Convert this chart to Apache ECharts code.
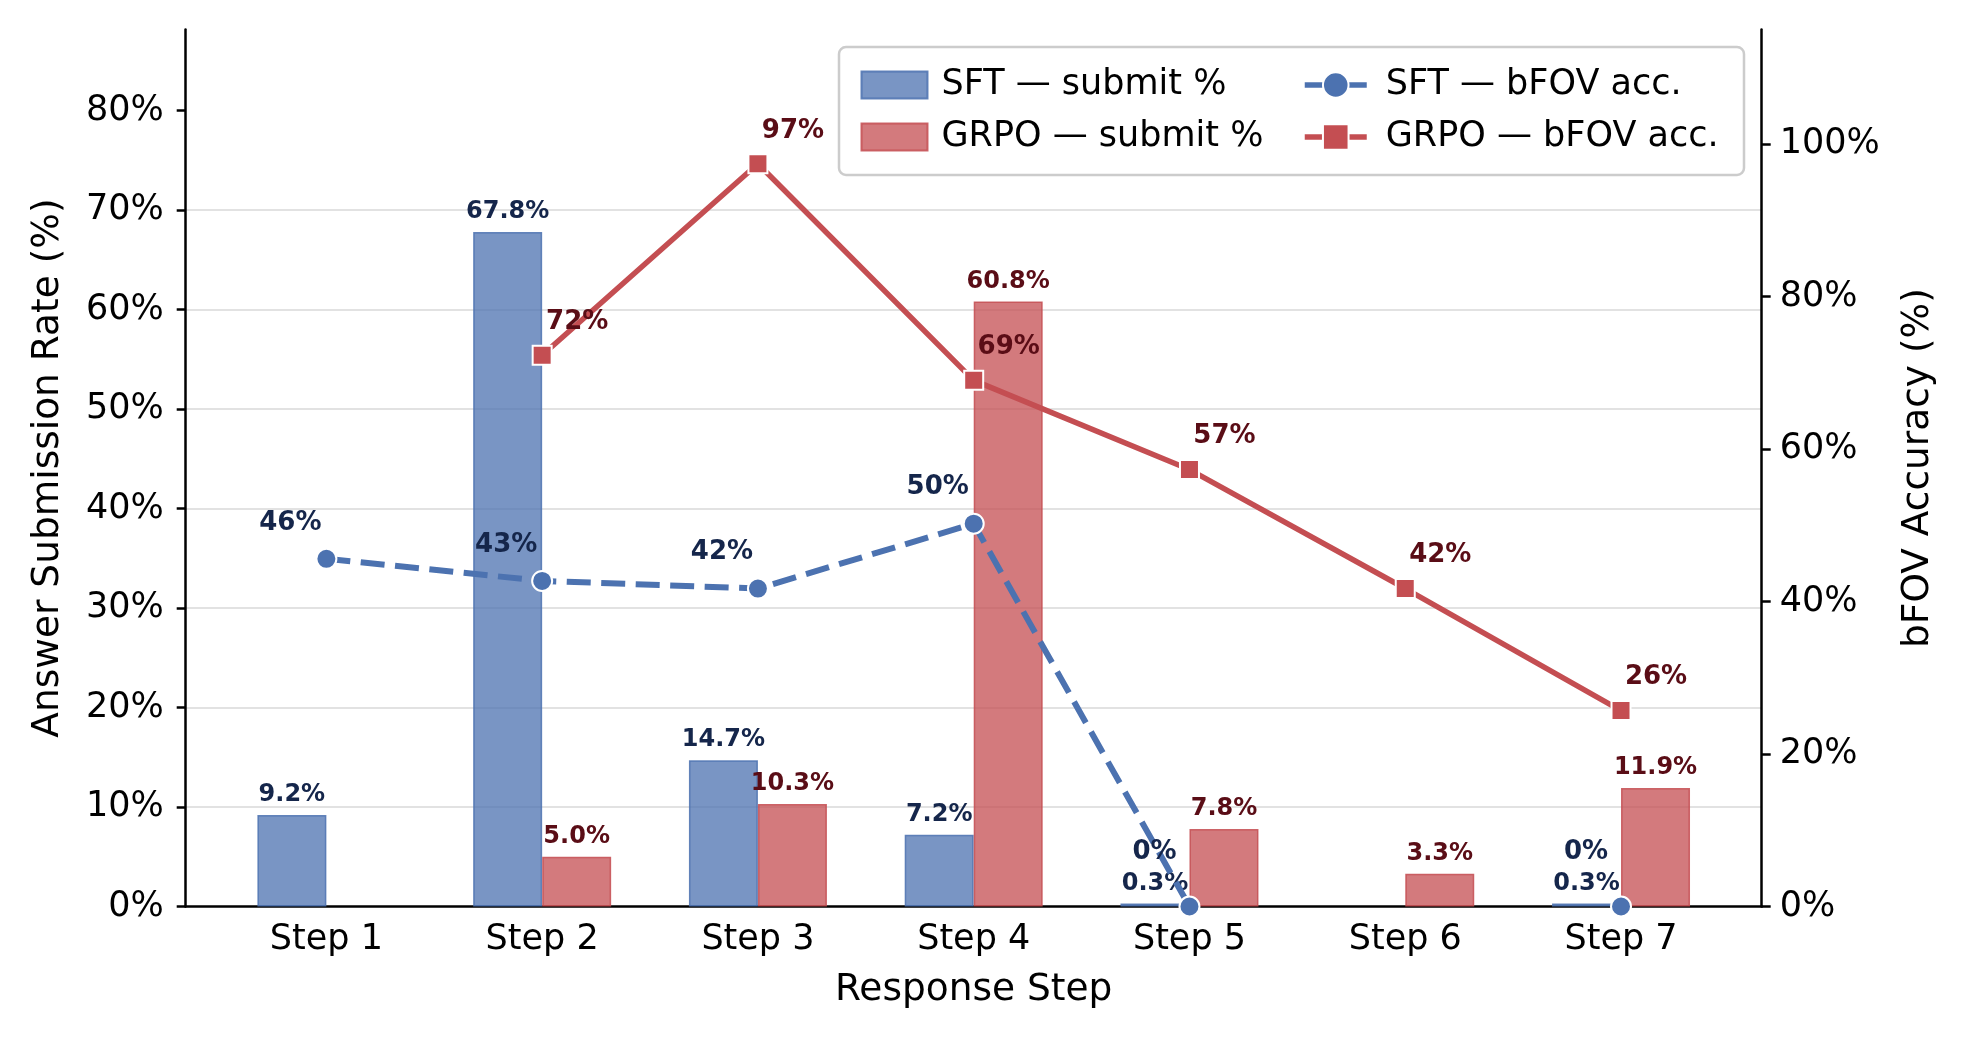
<!DOCTYPE html>
<html>
<head>
<meta charset="utf-8">
<script src="https://cdn.jsdelivr.net/npm/echarts@6/dist/echarts.min.js"></script>
<style>
    html, body { margin: 0; background: #fff; }
    #chart { width: 1968px; height: 1038px; }
</style>
</head>
<body>
<div id="chart"></div>
<script>
// data
const steps = ["Step 1", "Step 2", "Step 3", "Step 4", "Step 5", "Step 6", "Step 7"];
const sftSubmit = [9.2, 67.8, 14.7, 7.2, 0.3, 0, 0.3];
const grpoSubmit = [0, 5.0, 10.3, 60.8, 7.8, 3.3, 11.9];
const sftAcc = [45.6, 42.7, 41.7, 50.2, 0, null, 0];
const grpoAcc = [null, 72.3, 97.4, 69.0, 57.3, 41.7, 25.7];
const leftTicks = [0, 10, 20, 30, 40, 50, 60, 70, 80];
const rightTicks = [0, 20, 40, 60, 80, 100];

const FONT = "DejaVu Sans";
const SFT = "#4C72B0";
const GRPO = "#C44E52";
const SFT_TXT = "#15264b";
const GRPO_TXT = "#5a0d16";

let chart = echarts.init(document.getElementById("chart"));

// zero submit rate -> no bar at all
function barData(arr) {
    return arr.map((v, i) => (v > 0 ? [i, v] : [i, "-"]));
}

function lineData(arr, zeroOffset) {
    return arr.map((v, i) => {
        if (v === null) return [i, "-"];
        if (v === 0 && zeroOffset) {
            return { value: [i, v], label: { offset: zeroOffset } };
        }
        return [i, v];
    });
}

let options = {
    backgroundColor: "#fff",
    animation: false,
    textStyle: { fontFamily: FONT },
    grid: { left: 185.7, right: 206.3, top: 29.6, bottom: 131.5, containLabel: false },
    graphic: [
        {
            type: "rect",
            z: 50,
            shape: { x: 839, y: 47, width: 905, height: 128, r: 7 },
            style: { fill: "rgba(255,255,255,0.85)", stroke: "#cccccc", lineWidth: 2.5 },
        },
    ],
    legend: [
        {
            z: 60,
            orient: "vertical",
            left: 860.5,
            top: 67.5,
            padding: 0,
            icon: "rect",
            itemWidth: 66,
            itemHeight: 27,
            itemGap: 17,
            textStyle: { fontFamily: FONT, fontSize: 35, color: "#000", padding: [0, 0, 0, 9] },
            data: ["SFT — submit %", "GRPO — submit %"],
        },
        {
            z: 60,
            orient: "vertical",
            left: 1302,
            top: 67.5,
            padding: 0,
            itemWidth: 62,
            itemHeight: 32,
            itemGap: 17,
            lineStyle: { type: "solid", width: 5.5 },
            textStyle: { fontFamily: FONT, fontSize: 35, color: "#000", padding: [0, 0, 0, 14] },
            data: [
                { name: "SFT — bFOV acc.", lineStyle: { type: "solid" } },
                { name: "GRPO — bFOV acc." },
            ],
        },
    ],
    xAxis: {
        type: "value",
        min: -0.652,
        max: 6.652,
        name: "Response Step",
        nameLocation: "middle",
        nameGap: 65,
        nameTextStyle: { fontFamily: FONT, fontSize: 37.5, color: "#000" },
        axisLine: { onZero: false, lineStyle: { color: "#000", width: 2.5 } },
        axisTick: { show: false },
        splitLine: { show: false },
        axisLabel: {
            customValues: steps.map((s, i) => i),
            formatter: (v) => steps[Math.round(v)],
            fontFamily: FONT,
            fontSize: 35,
            color: "#000",
            margin: 16,
        },
    },
    yAxis: [
        {
            type: "value",
            min: 0,
            max: 88.14,
            interval: 10,
            name: "Answer Submission Rate (%)",
            nameLocation: "middle",
            nameRotate: 90,
            nameGap: 118,
            nameTextStyle: { fontFamily: FONT, fontSize: 37.5, color: "#000" },
            axisLine: { show: true, onZero: false, lineStyle: { color: "#000", width: 2.5 } },
            axisTick: { show: true, length: 9, customValues: leftTicks, lineStyle: { color: "#000", width: 2.5 } },
            axisLabel: {
                customValues: leftTicks,
                formatter: "{value}%",
                fontFamily: FONT,
                fontSize: 35,
                color: "#000",
                margin: 22,
            },
            splitLine: {
                show: true,
                showMinLine: false,
                showMaxLine: false,
                lineStyle: { color: "#e2e2e2", width: 2 },
            },
        },
        {
            type: "value",
            min: 0,
            max: 115,
            interval: 20,
            position: "right",
            name: "bFOV Accuracy (%)",
            nameLocation: "middle",
            nameRotate: 90,
            nameGap: 138,
            nameTextStyle: { fontFamily: FONT, fontSize: 37.5, color: "#000" },
            axisLine: { show: true, onZero: false, lineStyle: { color: "#000", width: 2.5 } },
            axisTick: { show: true, length: 9, customValues: rightTicks, lineStyle: { color: "#000", width: 2.5 } },
            axisLabel: {
                customValues: rightTicks,
                formatter: "{value}%",
                fontFamily: FONT,
                fontSize: 35,
                color: "#000",
                margin: 18,
            },
            splitLine: { show: false },
        },
    ],
    series: [
        {
            name: "SFT — submit %",
            type: "bar",
            z: 2,
            barWidth: 69,
            barGap: "0%",
            data: barData(sftSubmit),
            itemStyle: { color: "rgba(76,114,176,0.75)", borderColor: "rgba(76,114,176,0.85)", borderWidth: 1.5 },
            label: {
                show: true,
                position: "top",
                distance: 8,
                fontFamily: FONT,
                fontWeight: "bold",
                fontSize: 24,
                color: SFT_TXT,
                formatter: (p) => p.value[1].toFixed(1) + "%",
            },
        },
        {
            name: "GRPO — submit %",
            type: "bar",
            z: 2,
            barWidth: 69,
            barGap: "0%",
            data: barData(grpoSubmit),
            itemStyle: { color: "rgba(196,78,82,0.75)", borderColor: "rgba(196,78,82,0.85)", borderWidth: 1.5 },
            label: {
                show: true,
                position: "top",
                distance: 8,
                fontFamily: FONT,
                fontWeight: "bold",
                fontSize: 24,
                color: GRPO_TXT,
                formatter: (p) => p.value[1].toFixed(1) + "%",
            },
        },
        {
            name: "SFT — bFOV acc.",
            type: "line",
            z: 4,
            yAxisIndex: 1,
            data: lineData(sftAcc, [-35, -54]),
            connectNulls: false,
            symbol: "circle",
            symbolSize: 20,
            color: SFT,
            lineStyle: { color: SFT, width: 6, type: [24, 10.5] },
            itemStyle: { color: SFT, borderColor: "#fff", borderWidth: 2 },
            label: {
                show: true,
                position: "inside",
                offset: [-36, -36],
                fontFamily: FONT,
                fontWeight: "bold",
                fontSize: 26,
                color: SFT_TXT,
                formatter: (p) => Math.round(p.value[1]) + "%",
            },
        },
        {
            name: "GRPO — bFOV acc.",
            type: "line",
            z: 4,
            yAxisIndex: 1,
            data: lineData(grpoAcc, null),
            connectNulls: false,
            symbol: "rect",
            symbolSize: 19,
            color: GRPO,
            lineStyle: { color: GRPO, width: 5.5 },
            itemStyle: { color: GRPO, borderColor: "#fff", borderWidth: 2 },
            label: {
                show: true,
                position: "inside",
                offset: [35, -33],
                fontFamily: FONT,
                fontWeight: "bold",
                fontSize: 26,
                color: GRPO_TXT,
                formatter: (p) => Math.round(p.value[1]) + "%",
            },
        },
    ],
};

chart.setOption(options);
</script>
</body>
</html>
